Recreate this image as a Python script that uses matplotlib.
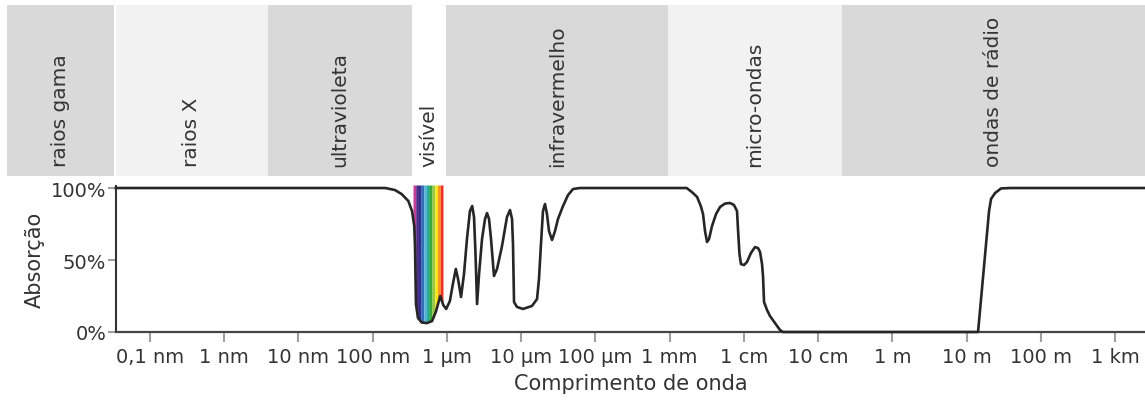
import numpy as np
from matplotlib import pyplot as plt

# wavelength as log10(metres), absorption in %
wl_log = [-10.46, -6.83, -6.70, -6.61, -6.52, -6.47, -6.44, -6.43, -6.423, -6.417,
          -6.39, -6.34, -6.27, -6.20, -6.15, -6.09, -6.05, -6.01, -5.96, -5.92,
          -5.88, -5.85, -5.81, -5.77, -5.73, -5.69, -5.66, -5.635, -5.615, -5.594,
          -5.567, -5.527, -5.487, -5.46, -5.433, -5.406, -5.366, -5.325, -5.258, -5.191,
          -5.15, -5.123, -5.11, -5.096, -5.056, -4.975, -4.854, -4.786, -4.76, -4.733,
          -4.706, -4.679, -4.652, -4.625, -4.584, -4.544, -4.504, -4.436, -4.369, -4.301,
          -4.21, -2.77, -2.70, -2.63, -2.58, -2.55, -2.523, -2.496, -2.469, -2.429,
          -2.375, -2.321, -2.254, -2.186, -2.133, -2.092, -2.079, -2.059, -2.039, -1.998,
          -1.958, -1.904, -1.85, -1.809, -1.782, -1.755, -1.742, -1.728, -1.688, -1.648,
          -1.58, -1.513, -1.472, 1.155, 1.303, 1.33, 1.384, 1.464, 1.586, 3.41]
absorb = [100, 100, 98.6, 95.8, 91.0, 84.0, 73.6, 59.7, 36.8, 19.4,
          9.7, 6.6, 6.2, 7.6, 13.9, 25.0, 18.8, 16.0, 21.5, 33.3,
          43.8, 36.8, 24.3, 40.3, 64.6, 84.0, 87.5, 79.9, 54.2, 19.4,
          40.3, 64.6, 78.5, 82.6, 78.5, 64.6, 38.9, 43.8, 59.7, 79.9,
          84.7, 78.5, 61.1, 20.8, 17.4, 16.0, 18.1, 22.9, 36.8, 61.1,
          84.0, 88.9, 81.9, 70.1, 63.9, 70.1, 78.5, 87.5, 95.1, 99.3,
          100, 100, 97.2, 93.8, 87.5, 81.9, 70.1, 62.5, 64.6, 73.6,
          81.9, 86.8, 89.2, 89.6, 88.2, 84.0, 71.5, 54.2, 47.2, 46.5,
          48.6, 54.9, 59.0, 58.3, 55.6, 47.2, 38.9, 20.8, 15.3, 11.1,
          6.2, 1.4, 0, 0, 84.0, 92.4, 96.5, 99.7, 100, 100]

tick_pos = [-10, -9, -8, -7, -6, -5, -4, -3, -2, -1, 0, 1, 2, 3]
tick_labels = ["0,1 nm", "1 nm", "10 nm", "100 nm", "1 µm", "10 µm", "100 µm",
               "1 mm", "1 cm", "10 cm", "1 m", "10 m", "100 m", "1 km"]

band_names = ["raios gama", "raios X", "ultravioleta", "visível",
              "infravermelho", "micro-ondas", "ondas de rádio"]
band_start = [-11.93, -10.46, -8.41, -6.47, -6.01, -3.02, -0.68]
band_end = [-10.48, -8.41, -6.47, -6.01, -3.02, -0.68, 3.41]
band_colors = ["#d9d9d9", "#f2f2f2", "#d9d9d9", "#ffffff",
               "#d9d9d9", "#f2f2f2", "#d9d9d9"]

vis_start, vis_end = -6.457, -6.053
rainbow = ["#c2409a", "#4b2a84", "#2e3192", "#2f6fb7", "#52b3d9", "#1fa68a",
           "#3aaa35", "#9dc83c", "#f7e618", "#f7941d", "#ee3124"]

W, H = 1145, 406
fig = plt.figure(figsize=(W / 100, H / 100), dpi=100)
txt = "#333333"

# band strip on top
axb = fig.add_axes([0, (H - 177) / H, 1, 171 / H])
axb.set_xlim(-12.021, 3.404)
axb.set_ylim(0, 1)
axb.axis("off")
for name, s, e, c in zip(band_names, band_start, band_end, band_colors):
    axb.axvspan(s, e, color=c, lw=0)
    axb.text((s + e) / 2, 0.058, name, rotation=90, ha="center", va="bottom",
             fontsize=14.5, color=txt)

# absorption curve
ax = fig.add_axes([116 / W, 73 / H, 1029 / W, 147 / H])
ax.set_xlim(-10.458, 3.404)
ax.set_ylim(0, 102.1)

x = np.array(wl_log)
y = np.array(absorb)
edges = np.linspace(vis_start, vis_end, len(rainbow) + 1)
for i, c in enumerate(rainbow):
    xs = np.linspace(edges[i], edges[i + 1], 20)
    ax.fill_between(xs, np.interp(xs, x, y), 102.1, color=c, lw=0, zorder=1)

ax.plot(x, y, color="#262626", lw=1.9, solid_joinstyle="round", zorder=3,
        clip_on=False)

for s in ["top", "right"]:
    ax.spines[s].set_visible(False)
ax.spines["left"].set_color("#333333")
ax.spines["left"].set_linewidth(1.5)
ax.spines["left"].set_bounds(0, 101.4)
ax.spines["bottom"].set_color("#444444")
ax.spines["bottom"].set_linewidth(1.6)

ax.set_xticks(tick_pos)
ax.set_xticklabels(tick_labels)
ax.set_yticks([0, 50, 100])
ax.set_yticklabels(["0%", "50%", "100%"])
ax.tick_params(axis="x", length=7, width=1.5, color="#a0a0a0", labelsize=14,
               labelcolor=txt, pad=4)
ax.tick_params(axis="y", length=6, width=1.5, color="#a0a0a0", labelsize=14,
               labelcolor=txt, pad=1)
ax.set_xlabel("Comprimento de onda", fontsize=15, color=txt, labelpad=5)
ax.set_ylabel("Absorção", fontsize=15, color=txt, labelpad=4)

plt.savefig("out.png", dpi=100)
